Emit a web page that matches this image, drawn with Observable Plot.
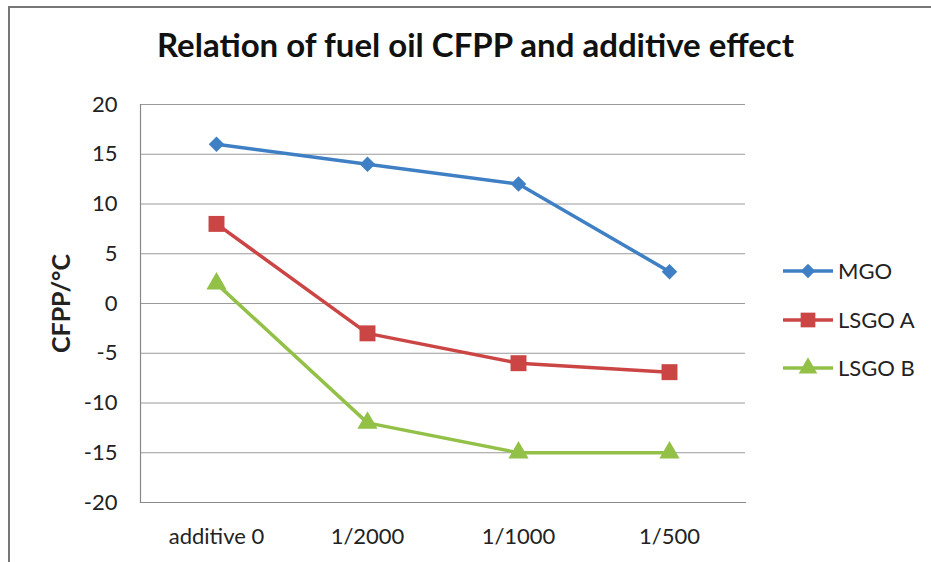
<!DOCTYPE html>
<html>
<head>
<meta charset="utf-8">
<script src="https://cdn.jsdelivr.net/npm/d3@7"></script>
<script src="https://cdn.jsdelivr.net/npm/@observablehq/plot@0.6"></script>
<style>
  html, body { margin: 0; padding: 0; background: #fff; overflow: hidden; }
  #wrap { position: relative; width: 931px; height: 562px; font-family: Lato, "Open Sans", sans-serif; }
  #border { position: absolute; left: 8px; top: 6px; width: 960px; height: 600px; border: 2px solid #777; box-sizing: border-box; }
  #title { position: absolute; left: 0; width: 951px; top: 24px; text-align: center; font-weight: bold; font-size: 33px; line-height: 40px; color: #111; }
  #legend { position: absolute; left: 783px; top: 256px; font-size: 22px; color: #222; }
  #legend .item { height: 48.5px; display: flex; align-items: flex-start; }
  #legend svg { display: block; }
  #legend span { line-height: 30px; margin-left: 0px; }
  #chart { position: absolute; left: 0; top: 0; }
  #chart svg [aria-label="y-axis label"] text { font-weight: bold; font-size: 25px; }
</style>
</head>
<body>
<div id="wrap">
  <div id="border"></div>
  <div id="chart"></div>
  <div id="title"></div>
  <div id="legend"></div>
</div>
<script>
const titleText = "Relation of fuel oil CFPP and additive effect";
const yLabel = "CFPP/°C";
const categories = ["additive 0", "1/2000", "1/1000", "1/500"];
const seriesNames = ["MGO", "LSGO A", "LSGO B"];
const mgo = [16, 14, 12, 3.2];
const lsgoA = [8, -3, -6, -6.9];
const lsgoB = [2, -12, -15, -15];
const yTicks = [-20, -15, -10, -5, 0, 5, 10, 15, 20];
const colors = ["#3f7fc4", "#cc4545", "#93c047"];
const symbols = ["diamond2", "square", "triangle"];
const symbolR = [7, 9, 7.5];

const valuesBySeries = [mgo, lsgoA, lsgoB];
const data = seriesNames.flatMap((s, i) =>
  categories.map((c, j) => ({ series: s, category: c, value: valuesBySeries[i][j] }))
);

document.getElementById("title").textContent = titleText;

const chart = Plot.plot({
  width: 931,
  height: 562,
  marginTop: 104,
  marginBottom: 60,
  marginLeft: 140,
  marginRight: 186,
  style: { fontFamily: "Lato, 'Open Sans', sans-serif", fontSize: "22px", color: "#222", background: "transparent" },
  x: { type: "point", domain: categories, padding: 0.5, label: null },
  y: { domain: [-20, 20], label: null },
  color: { domain: seriesNames, range: colors },
  symbol: { domain: seriesNames, range: symbols },
  marks: [
    Plot.gridY(yTicks, { stroke: "#9a9a9a", strokeOpacity: 1, strokeWidth: 1.2 }),
    Plot.axisY(yTicks, { tickSize: 0, tickPadding: 23, tickFormat: d => String(d), label: yLabel, labelAnchor: "center", labelArrow: "none", labelOffset: 88, fill: "#222" }),
    Plot.axisX({ tickSize: 0, tickPadding: 26, fill: "#222" }),
    Plot.frame({ anchor: "left", stroke: "#888", strokeWidth: 1.2 }),
    Plot.frame({ anchor: "bottom", stroke: "#888", strokeWidth: 1.2 }),
    Plot.line(data, { x: "category", y: "value", z: "series", stroke: "series", strokeWidth: 3.5 }),
    ...seriesNames.map((s, i) =>
      Plot.dot(data.filter(d => d.series === s), { x: "category", y: "value", fill: "series", symbol: "series", r: symbolR[i], stroke: "none" })
    )
  ]
});
document.getElementById("chart").appendChild(chart);

// legend
const legend = d3.select("#legend");
seriesNames.forEach((s, i) => {
  const item = legend.append("div").attr("class", "item");
  const sv = item.append("svg").attr("width", 55).attr("height", 30);
  sv.append("line").attr("x1", 0).attr("x2", 50).attr("y1", 15).attr("y2", 15)
    .attr("stroke", colors[i]).attr("stroke-width", 3.5);
  const symMap = { diamond2: d3.symbolDiamond2, square: d3.symbolSquare, triangle: d3.symbolTriangle };
  const r = symbolR[i];
  sv.append("path").attr("transform", "translate(25,15)")
    .attr("d", d3.symbol(symMap[symbols[i]], Math.PI * r * r * 0.85)())
    .attr("fill", colors[i]);
  item.append("span").text(s);
});
</script>
</body>
</html>
